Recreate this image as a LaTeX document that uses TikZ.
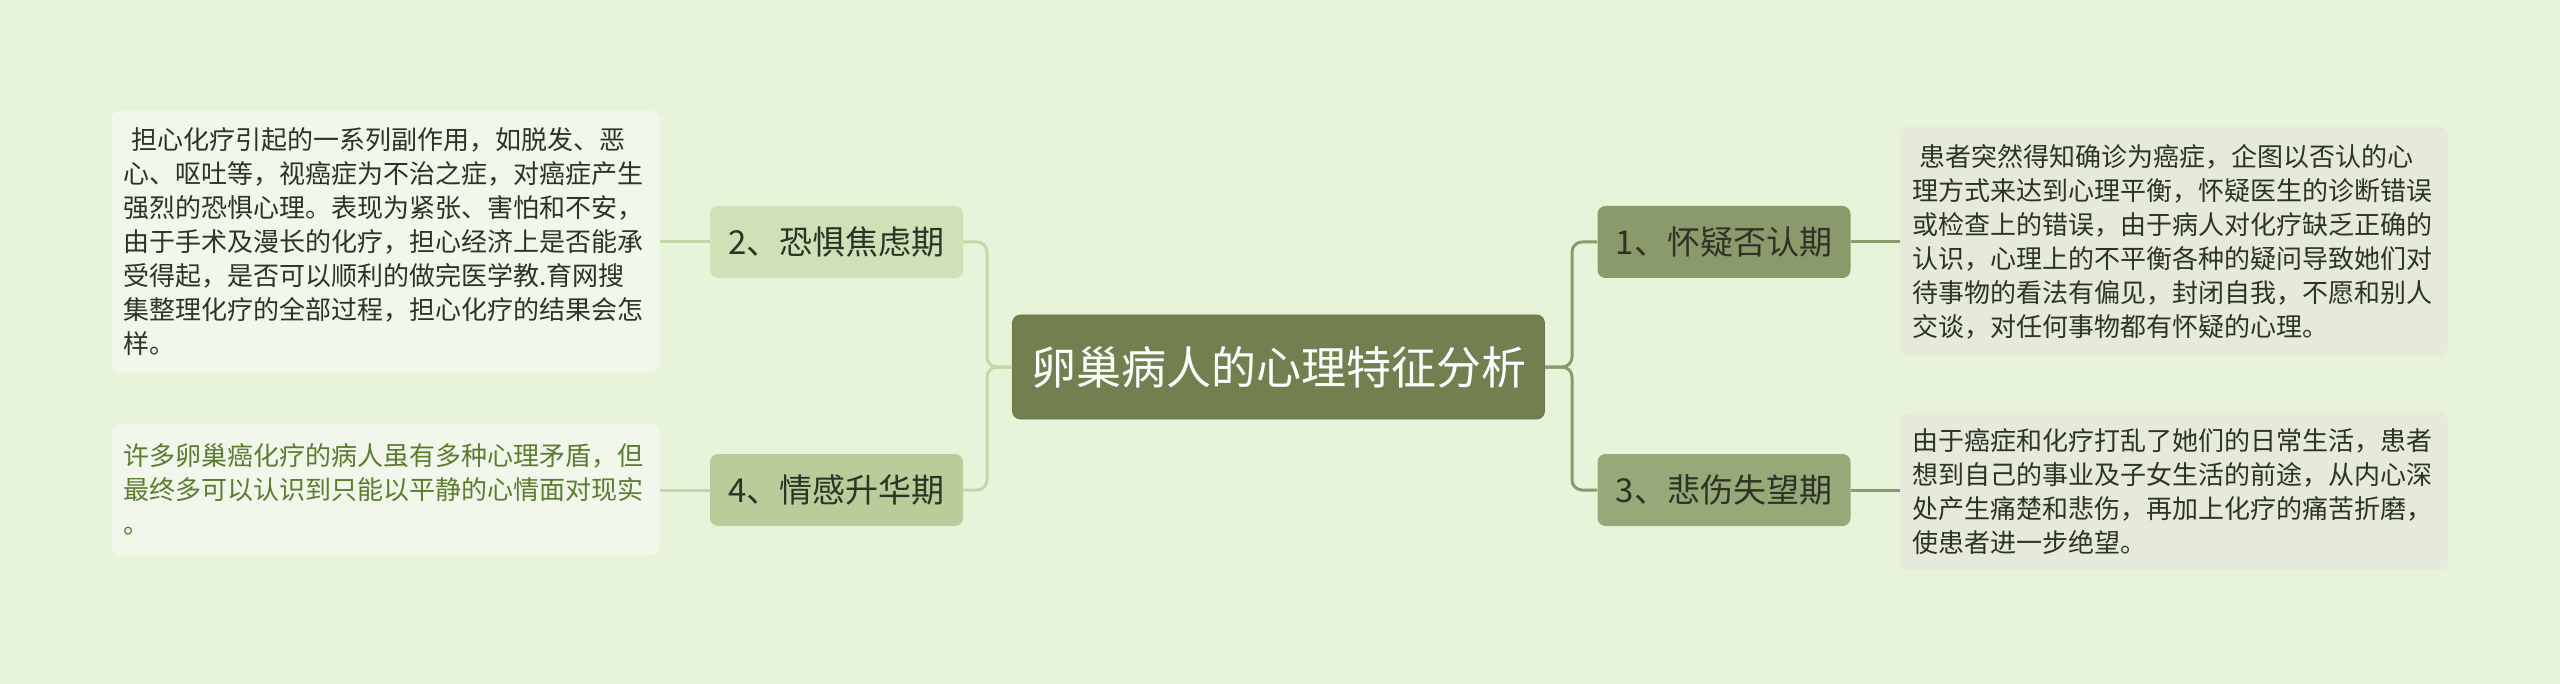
\documentclass[tikz,border=0pt]{standalone}
\usepackage{fontspec}
\setmainfont{Noto Sans CJK SC}
\usepackage{tikz}

\definecolor{bgc}{HTML}{E8F4DA}
\definecolor{rootc}{HTML}{728050}
\definecolor{onec}{HTML}{8B9A6B}
\definecolor{threec}{HTML}{97A879}
\definecolor{twoc}{HTML}{CEE1B7}
\definecolor{fourc}{HTML}{B8CD9A}
\definecolor{leftbox}{HTML}{F2F7EC}
\definecolor{rightbox}{HTML}{E5EADB}
\definecolor{leftc}{HTML}{C3D7A7}
\definecolor{rightc}{HTML}{8B9A6B}
\definecolor{txtc}{HTML}{2D3325}
\definecolor{greentxt}{HTML}{5B7D2E}

\begin{document}
\begin{tikzpicture}[x=0.5pt,y=-0.5pt,
  rootnode/.style={fill=rootc,draw=rootc!90!black,text=white,rounded corners=4pt,minimum width=266pt,minimum height=52pt,font=\fontsize{22.5pt}{27pt}\selectfont},
  branchnode/.style={rounded corners=4pt,minimum width=126.5pt,minimum height=36pt,text=txtc,font=\fontsize{16.5pt}{20pt}\selectfont},
  notebox/.style={rounded corners=4pt,text width=262pt,inner xsep=6pt,align=left,text=txtc,font=\fontsize{13pt}{17pt}\selectfont},
  leftlink/.style={draw=leftc,line width=1.5pt,rounded corners=5pt},
  rightlink/.style={draw=rightc,line width=1.5pt,rounded corners=5pt}]
\fill[bgc] (0,0) rectangle (2560,684);
\useasboundingbox (0,0) rectangle (2560,684);

\node[rootnode] (root) at (1278.5,367) {卵巢病人的心理特征分析};

\node[branchnode,fill=twoc] (fear) at (836.5,242) {2、恐惧焦虑期};
\node[branchnode,fill=fourc] (sublim) at (836.5,490) {4、情感升华期};
\node[branchnode,fill=onec] (doubt) at (1724,242) {1、怀疑否认期};
\node[branchnode,fill=threec] (grief) at (1724,490) {3、悲伤失望期};

\node[notebox,fill=leftbox,minimum height=130.5pt] (fearnote) at (385.5,241.5) {\hspace*{0.3em}担心化疗引起的一系列副作用，如脱发、恶\\心、呕吐等，视癌症为不治之症，对癌症产生\\强烈的恐惧心理。表现为紧张、害怕和不安，\\由于手术及漫长的化疗，担心经济上是否能承\\受得起，是否可以顺利的做完医学教.育网搜\\集整理化疗的全部过程，担心化疗的结果会怎\\样。};
\node[notebox,fill=leftbox,text=greentxt,minimum height=65.5pt] (sublimnote) at (385.5,489.5) {许多卵巢癌化疗的病人虽有多种心理矛盾，但\\最终多可以认识到只能以平静的心情面对现实\\。};
\node[notebox,fill=rightbox,minimum height=114.5pt] (doubtnote) at (2174,241.5) {\hspace*{0.3em}患者突然得知确诊为癌症，企图以否认的心\\理方式来达到心理平衡，怀疑医生的诊断错误\\或检查上的错误，由于病人对化疗缺乏正确的\\认识，心理上的不平衡各种的疑问导致她们对\\待事物的看法有偏见，封闭自我，不愿和别人\\交谈，对任何事物都有怀疑的心理。};
\node[notebox,fill=rightbox,minimum height=78.5pt] (griefnote) at (2174,491.5) {由于癌症和化疗打乱了她们的日常生活，患者\\想到自己的事业及子女生活的前途，从内心深\\处产生痛楚和悲伤，再加上化疗的痛苦折磨，\\使患者进一步绝望。};

\coordinate (lspine) at (987,367);
\coordinate (rspine) at (1572,367);

\draw[leftlink] (root.west) -- (lspine) |- (fear.east);
\draw[leftlink] (root.west) -- (lspine) |- (sublim.east);
\draw[rightlink] (root.east) -- (rspine) |- (doubt.west);
\draw[rightlink] (root.east) -- (rspine) |- (grief.west);

\draw[leftlink] (fear.west) -- (fearnote.east |- fear.west);
\draw[leftlink] (sublim.west) -- (sublimnote.east |- sublim.west);
\draw[rightlink] (doubt.east) -- (doubtnote.west |- doubt.east);
\draw[rightlink] (grief.east) -- (griefnote.west |- grief.east);
\end{tikzpicture}
\end{document}
